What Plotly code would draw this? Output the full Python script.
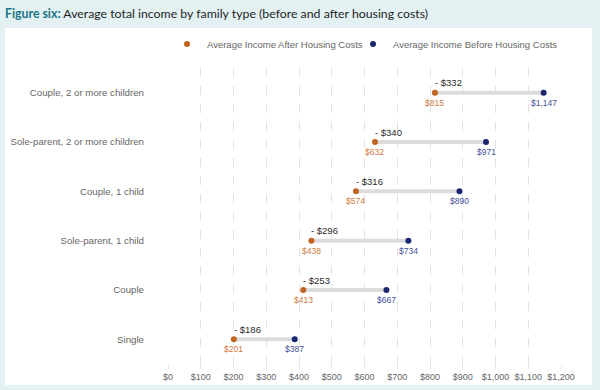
import plotly.graph_objects as go

categories = ["Couple, 2 or more children", "Sole-parent, 2 or more children",
              "Couple, 1 child", "Sole-parent, 1 child", "Couple", "Single"]
after_hc = [815, 632, 574, 438, 413, 201]
before_hc = [1147, 971, 890, 734, 667, 387]
diff_labels = ["- $332", "- $340", "- $316", "- $296", "- $253", "- $186"]
after_labels = ["$815", "$632", "$574", "$438", "$413", "$201"]
before_labels = ["$1,147", "$971", "$890", "$734", "$667", "$387"]
tick_vals = [0, 100, 200, 300, 400, 500, 600, 700, 800, 900, 1000, 1100, 1200]
tick_text = ["$0", "$100", "$200", "$300", "$400", "$500", "$600", "$700", "$800",
             "$900", "$1,000", "$1,100", "$1,200"]

ORANGE = "#c0641f"
NAVY = "#1b2670"
ORANGE_LBL = "#cf7a3e"
NAVY_LBL = "#45509a"

# plot area pixel geometry
L, R, T, B = 168, 39, 68, 26
W, H = 600, 390
pw, ph = W - L - R, H - T - B

def px_x(p):
    return (p - L) / pw

def px_y(p):
    return (H - B - p) / ph

fig = go.Figure()

# connecting lines
lx, ly = [], []
for c, a, b in zip(categories, after_hc, before_hc):
    lx += [a, b, None]
    ly += [c, c, None]
fig.add_trace(go.Scatter(x=lx, y=ly, mode="lines", line=dict(color="#dcdcdc", width=4),
                         showlegend=False, hoverinfo="skip"))

fig.add_trace(go.Scatter(x=after_hc, y=categories, mode="markers", name="Average Income After Housing Costs",
                         marker=dict(color=ORANGE, size=6), legend="legend"))
fig.add_trace(go.Scatter(x=before_hc, y=categories, mode="markers", name="Average Income Before Housing Costs",
                         marker=dict(color=NAVY, size=6), legend="legend2"))

ann = []
for c, a, b, d, al, bl in zip(categories, after_hc, before_hc, diff_labels, after_labels, before_labels):
    ann.append(dict(x=a, y=c, xref="x", yref="y", text=d, showarrow=False, xanchor="left",
                    yanchor="middle", yshift=10, xshift=-2,
                    font=dict(family="Liberation Sans, Arial", size=9.5, color="#2a2a2a")))
    ann.append(dict(x=a, y=c, xref="x", yref="y", text=al, showarrow=False, xanchor="center",
                    yanchor="middle", yshift=-10,
                    font=dict(family="Liberation Sans, Arial", size=8.5, color=ORANGE_LBL)))
    ann.append(dict(x=b, y=c, xref="x", yref="y", text=bl, showarrow=False, xanchor="center",
                    yanchor="middle", yshift=-10,
                    font=dict(family="Liberation Sans, Arial", size=8.5, color=NAVY_LBL)))

legend_common = dict(orientation="h", xanchor="left", yanchor="middle", y=px_y(44),
                     bgcolor="rgba(0,0,0,0)", font=dict(size=9.5, color="#666666"), itemwidth=30)

fig.update_layout(
    width=W, height=H,
    margin=dict(l=L, r=R, t=T, b=B, autoexpand=False),
    paper_bgcolor="#e3f1f3",
    plot_bgcolor="white",
    font=dict(family="Liberation Sans, Arial", size=10, color="#666666"),
    title=dict(text="<span style='color:#1b7488'><b>Figure six:</b></span> Average total income by family type (before and after housing costs)",
               x=5 / W, xanchor="left", y=1 - 14 / H, yanchor="middle",
               font=dict(family="Lato", size=12.3, color="#1f1f1f")),
    shapes=[dict(type="rect", xref="paper", yref="paper", x0=px_x(5), x1=px_x(592),
                 y0=px_y(385), y1=px_y(28), fillcolor="white", line=dict(width=0), layer="below")],
    legend=dict(x=px_x(167), **legend_common),
    legend2=dict(x=px_x(353), **legend_common),
    annotations=ann,
    xaxis=dict(range=[0, 1200], tickvals=tick_vals, ticktext=tick_text, showgrid=True,
               gridcolor="#e2e2e2", griddash="dash", gridwidth=1, zeroline=False,
               ticks="outside", ticklen=4, tickcolor="#e8e8e8", showline=False,
               tickangle=0, automargin=False,
               tickfont=dict(size=9, color="#666666")),
    yaxis=dict(categoryorder="array", categoryarray=categories[::-1], range=[-0.5, 5.5],
               showgrid=False, zeroline=False, showline=False, ticklabelstandoff=23,
               automargin=False, tickfont=dict(size=9.7, color="#666666")),
)

fig.write_html("out.html", post_script="document.body.style.margin='0px';",
               config={"displayModeBar": False})
